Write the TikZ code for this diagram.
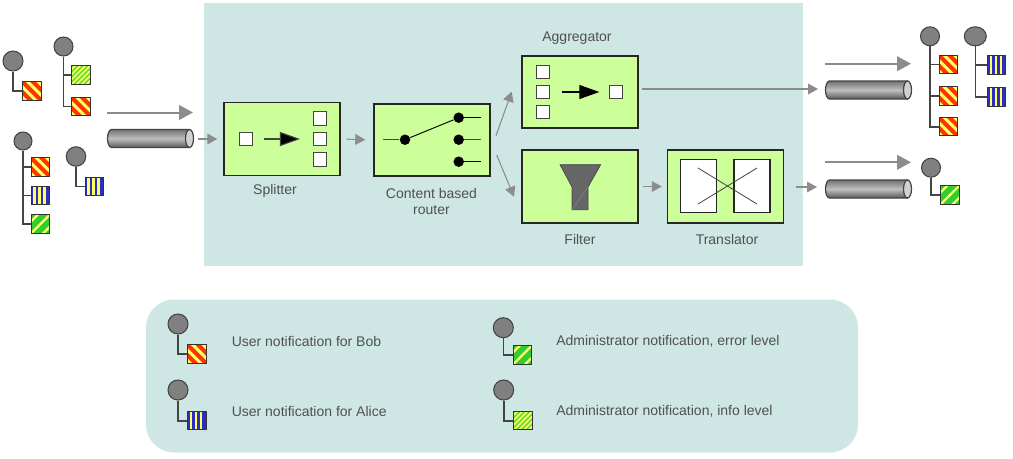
\documentclass[tikz,border=0pt]{standalone}
\usepackage{fontspec}
\setmainfont{Liberation Sans}
\usetikzlibrary{arrows.meta,shapes.geometric}
\definecolor{teal0}{HTML}{CFE7E4}
\definecolor{boxgreen}{HTML}{CCFF99}
\definecolor{ballgrey}{HTML}{808080}
\definecolor{edge}{HTML}{444444}
\definecolor{txt}{HTML}{505050}
\definecolor{arrowgrey}{HTML}{8C8C8C}
\definecolor{sred}{HTML}{FF3300}
\definecolor{syellow}{HTML}{FFFF66}
\definecolor{sblue}{HTML}{2A2FC0}
\definecolor{sgreen}{HTML}{33CC33}
\definecolor{slight}{HTML}{66DD33}
\tikzset{
 x=0.75pt,y=-0.75pt,
 ball/.style={circle,draw=edge,line width=0.8pt,fill=ballgrey,inner sep=0pt,minimum size=#1*0.75pt},
 ball/.default=19,
 wideball/.style={ellipse,draw=edge,line width=0.8pt,fill=ballgrey,inner sep=0pt,minimum width=22*0.75pt,minimum height=19*0.75pt},
 sq/.style={rectangle,draw=black!80,line width=0.75pt,inner sep=0pt,minimum size=18.5*0.75pt},
 redsq/.style={sq,fill=sred,path picture={
   \begin{scope}[shift={(path picture bounding box.center)}]
   \foreach \d in {-16,-5.5,5,15.5} \draw[syellow,line width=2.3pt] (\d-12,-12)--(\d+12,12);
   \end{scope}}},
 bluesq/.style={sq,fill=sblue,path picture={
   \begin{scope}[shift={(path picture bounding box.center)}]
   \foreach \d in {-6,-1,4} \draw[syellow,line width=1.7pt] (\d,-12)--(\d,12);
   \end{scope}}},
 greensq/.style={sq,fill=sgreen,path picture={
   \begin{scope}[shift={(path picture bounding box.center)}]
   \foreach \d in {-12,0,12} \draw[syellow,line width=1.8pt] (\d-12,12)--(\d+12,-12);
   \end{scope}}},
 lightsq/.style={sq,fill=slight,path picture={
   \begin{scope}[shift={(path picture bounding box.center)}]
   \foreach \d in {-20,-15,-10,-5,0,5,10,15,20} \draw[syellow,line width=1.2pt] (\d-12,12)--(\d+12,-12);
   \end{scope}}},
 stem/.style={draw=edge,line width=1.2pt},
 bigarrow/.style={draw=arrowgrey,line width=1.5pt,-{Triangle[length=10.5pt,width=11pt]}},
 smallarrow/.style={draw=arrowgrey,line width=0.8pt,-{Triangle[length=7.5pt,width=8pt]}},
 epbox/.style={rectangle,draw=black!85,line width=1.1pt,fill=boxgreen,inner sep=0pt,minimum width=116*0.75pt,minimum height=73*0.75pt},
 whitesq/.style={rectangle,draw=edge,line width=0.9pt,fill=white,inner sep=0pt,minimum size=13.5*0.75pt},
 dot/.style={circle,fill=black,inner sep=0pt,minimum size=10.5*0.75pt},
 flowline/.style={draw=edge,line width=0.8pt,-{Triangle[length=15pt,width=10.5pt,fill=black]}},
 wire/.style={draw=edge,line width=1pt},
 label/.style={text=txt,font=\fontsize{10.5pt}{12pt}\selectfont,align=center,inner sep=0pt},
 legendtext/.style={text=txt,font=\fontsize{10.5pt}{12pt}\selectfont,anchor=west,inner sep=0pt},
 pipebody/.style={rectangle,inner sep=0pt,minimum width=87*0.75pt,minimum height=19*0.75pt},
}
% \pipe{name}{cx}{cy}
\newcommand{\pipe}[3]{%
 \node[pipebody] (#1) at (#2,#3) {};
 \draw[edge,line width=0.9pt,top color=black!55,bottom color=black!65,middle color=black!25]
   (#2+39,#3-9) -- (#2-39,#3-9) arc[start angle=270,end angle=90,x radius=4,y radius=9]
   -- (#2+39,#3+9) -- cycle;
 \draw[edge,line width=0.9pt,fill=black!18] (#2+39,#3) ellipse[x radius=4,y radius=9];
}
\begin{document}
\begin{tikzpicture}
\useasboundingbox (0,0) rectangle (1013,458);
\fill[white] (0,0) rectangle (1013,458);
\fill[teal0] (204,3) rectangle (803,266);
\fill[teal0,rounded corners=21pt] (146,299.5) rectangle (858,452.5);

% --- left messages
\node[ball=20] (b1) at (13,61) {};
\node[redsq] (s1) at (32,91) {};
\draw[stem] (b1.south) |- (s1.west);
\node[ball=19] (b2) at (63.5,46.5) {};
\node[lightsq] (s2) at (81,75) {};
\node[redsq] (s3) at (81,106.5) {};
\draw[stem] (b2.south) |- (s2.west);
\draw[stem] (b2.south) |- (s3.west);
\node[ball=18] (b3) at (23,141) {};
\node[redsq] (s4) at (40.5,167) {};
\node[bluesq] (s5) at (40.5,195.5) {};
\node[greensq] (s6) at (40.5,224) {};
\draw[stem] (b3.south) |- (s4.west);
\draw[stem] (b3.south) |- (s5.west);
\draw[stem] (b3.south) |- (s6.west);
\node[ball=19.5] (b4) at (76,156.5) {};
\node[bluesq] (s7) at (94.5,186.5) {};
\draw[stem] (b4.south) |- (s7.west);

% --- input channel
\coordinate (ia1) at (107,112.5); \coordinate (ia2) at (193,112.5);
\draw[bigarrow] (ia1) -- (ia2);
\pipe{pin}{150.5}{138.5}

% --- splitter
\node[epbox] (split) at (282,139) {};
\node[whitesq] (sa) at (246,139) {};
\node[whitesq] (sb1) at (320,118.5) {};
\node[whitesq] (sb2) at (320,139) {};
\node[whitesq] (sb3) at (320,159.5) {};
\draw[flowline,shorten <=8pt,shorten >=9.5pt] (sa) -- (sb2);
\node[label] (splitl) at (275,191) {Splitter};
\draw[smallarrow,shorten <=3pt] (pin.east |- split.west) -- ++(23,0) coordinate (pinout);

% --- router
\node[epbox,minimum height=72*0.75pt] (router) at (432,140) {};
\node[dot] (d0) at (405,139.7) {};
\node[dot] (d1) at (458.7,117.7) {};
\node[dot] (d2) at (458.7,139.7) {};
\node[dot] (d3) at (458.7,161.7) {};
\coordinate (rin) at (383,139.7);
\coordinate (r1) at (481,117.7);
\coordinate (r2) at (481,139.7);
\coordinate (r3) at (481,161.7);
\draw[wire,line width=1.1pt] (rin) -- (d0);
\draw[wire,draw=black,line width=0.7pt] (d0) -- (d1);
\draw[wire,draw=black,line width=0.7pt] (d1) -- (r1);
\draw[wire,line width=1.1pt] (d2) -- (r2);
\draw[wire,draw=black,line width=0.7pt] (d3) -- (r3);
\node[label] (routerl) at (431.5,201) {Content based\\router};
\draw[smallarrow,shorten <=6*0.75pt,shorten >=8*0.75pt] (split.east) -- (router.west);

% --- aggregator
\node[epbox,minimum height=72*0.75pt] (agg) at (580,92.2) {};
\node[whitesq] (aa1) at (543,72) {};
\node[whitesq] (aa2) at (543,92) {};
\node[whitesq] (aa3) at (543,112) {};
\node[whitesq] (ab) at (616,92) {};
\draw[flowline,draw=black,shorten <=8.5pt,shorten >=7pt] (aa2) -- (ab);
\node[label] (aggl) at (577,38) {Aggregator};
\coordinate (ro1) at (496,135.7); \coordinate (ai) at (511.7,91.7);
\draw[smallarrow] (ro1) -- (ai);

% --- filter
\node[epbox] (filter) at (580,186.5) {};
\fill[draw=edge,line width=0.5pt,fill=black!60] (560,164.7) -- (600.7,164.7) -- (588,187) -- (588,209.7) -- (572,209.7) -- (572,187) -- cycle;
\draw[black!45,line width=0.3pt] (588,187) -- (572,209.7);
\node[label] (filterl) at (580,239) {Filter};
\coordinate (ro2) at (496.7,155); \coordinate (fi) at (514,196.7);
\draw[smallarrow] (ro2) -- (fi);

% --- translator
\node[epbox] (trans) at (725.5,186.5) {};
\node[rectangle,draw=black!85,line width=0.8pt,fill=white,inner sep=0pt,minimum width=36*0.75pt,minimum height=53.5*0.75pt] (tl) at (698.7,186.2) {};
\node[rectangle,draw=black!85,line width=0.8pt,fill=white,inner sep=0pt,minimum width=36*0.75pt,minimum height=53.5*0.75pt] (tr) at (752,186.2) {};
\draw[edge,line width=0.6pt] (698,168) -- (757,204);
\draw[edge,line width=0.6pt] (698,204) -- (757,168);
\node[label] (transl) at (727,239) {Translator};
\draw[smallarrow,shorten <=4*0.75pt,shorten >=5*0.75pt] (filter.east) -- (trans.west);

% --- output channels
\coordinate (oa1) at (825,63.7); \coordinate (oa2) at (911,63.7);
\draw[bigarrow] (oa1) -- (oa2);
\pipe{pout1}{868.5}{90}
\coordinate (oa3) at (825,162.3); \coordinate (oa4) at (911,162.3);
\draw[bigarrow] (oa3) -- (oa4);
\pipe{pout2}{868.5}{189}
\coordinate (ao) at (642,89); \coordinate (pi1) at (818,89);
\draw[smallarrow,line width=1.1pt] (ao) -- (pi1);
\coordinate (to) at (796,187); \coordinate (pi2) at (817,187);
\draw[smallarrow] (to) -- (pi2);

% --- right messages
\node[ball=19] (b5) at (930,36.3) {};
\node[redsq] (s8) at (948.5,64.5) {};
\node[redsq] (s9) at (948.5,96.2) {};
\node[redsq] (s10) at (948.5,126.7) {};
\draw[stem] (b5.south) |- (s8.west);
\draw[stem] (b5.south) |- (s9.west);
\draw[stem] (b5.south) |- (s10.west);
\node[wideball] (b6) at (975.3,36.3) {};
\node[bluesq] (s11) at (996.7,65) {};
\node[bluesq] (s12) at (996.7,97) {};
\draw[stem] (b6.south) |- (s11.west);
\draw[stem] (b6.south) |- (s12.west);
\node[ball=19] (b7) at (931,167.7) {};
\node[greensq] (s13) at (950,195) {};
\draw[stem] (b7.south) |- (s13.west);

% --- legend
\node[ball=20] (l1) at (178,324) {};
\node[redsq] (ls1) at (197,354) {};
\draw[stem] (l1.south) |- (ls1.west);
\node[legendtext] (lt1) at (231.5,341.7) {User notification for Bob};
\node[ball=20] (l2) at (178,390) {};
\node[bluesq] (ls2) at (197,420.7) {};
\draw[stem] (l2.south) |- (ls2.west);
\node[legendtext] (lt2) at (231.5,411) {User notification for Alice};
\node[ball=20] (l3) at (503.3,327.7) {};
\node[greensq] (ls3) at (522.5,355) {};
\draw[stem] (l3.south) |- (ls3.west);
\node[legendtext] (lt3) at (556,341.7) {Administrator notification, error level};
\node[ball=20] (l4) at (503.7,390) {};
\node[lightsq] (ls4) at (523,420.7) {};
\draw[stem] (l4.south) |- (ls4.west);
\node[legendtext] (lt4) at (556,411) {Administrator notification, info level};
\end{tikzpicture}
\end{document}
